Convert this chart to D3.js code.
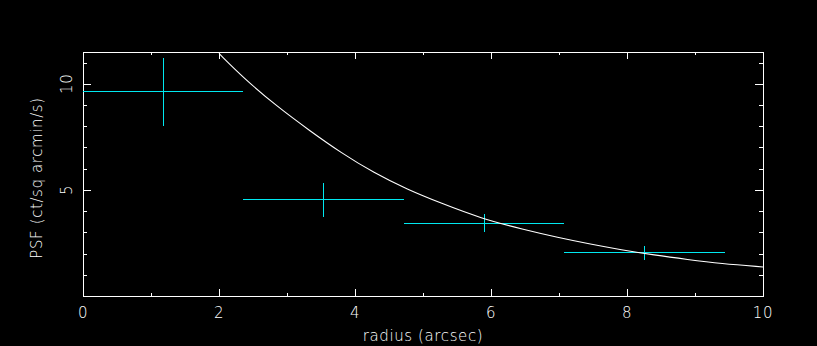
<!DOCTYPE html>
<html>
<head>
<meta charset="utf-8">
<script src="https://cdn.jsdelivr.net/npm/d3@7"></script>
<style>
  body { margin: 0; background: #000; }
  svg { display: block; }
  text { fill: #fff; font-family: "DejaVu Sans", sans-serif; font-size: 15px; font-weight: 200; letter-spacing: 0.6px; }
</style>
</head>
<body>
<svg id="chart" width="817" height="346"></svg>
<script>
// binned PSF data (radius bins and measured values)
const binLo = [0, 2.36, 4.72, 7.07];
const binHi = [2.36, 4.72, 7.08, 9.44];
const binMid = [1.18, 3.54, 5.90, 8.25];
const psf = [9.62, 4.53, 3.44, 2.03];
const psfLo = [8.0, 3.71, 3.0, 1.68];
const psfHi = [11.23, 5.34, 3.88, 2.37];

// model curve
const curveX = [2.0, 2.36, 2.85, 3.34, 3.79, 4.28, 4.77, 5.26, 5.85, 6.48, 6.98, 7.47, 7.91, 8.40, 8.89, 9.38, 10.0];
const curveY = [11.43, 10.28, 8.94, 7.78, 6.76, 5.80, 5.02, 4.38, 3.66, 3.13, 2.76, 2.44, 2.18, 1.93, 1.72, 1.53, 1.37];

const xTicks = [0, 2, 4, 6, 8, 10];
const yTicks = [5, 10];

const svg = d3.select("#chart");
const margin = { top: 52, right: 54, bottom: 50, left: 83 };
const width = 817, height = 346;

const x = d3.scaleLinear().domain([0, 10]).range([margin.left, width - margin.right]);
const y = d3.scaleLinear().domain([0, 11.5]).range([height - margin.bottom, margin.top]);

const frame = svg.append("g").attr("shape-rendering", "crispEdges");

// axes on all four sides, ticks pointing inward
const xMinor = d3.range(0, 11, 1);
const yMinor = d3.range(0, 12, 1);

frame.append("g")
  .attr("transform", "translate(0," + y(0) + ")")
  .call(d3.axisTop(x).tickValues(xMinor).tickSize(3).tickFormat(""));
frame.append("g")
  .attr("transform", "translate(0," + y(0) + ")")
  .call(d3.axisTop(x).tickValues(xTicks).tickSize(7).tickFormat(""));
frame.append("g")
  .attr("transform", "translate(0," + y(11.5) + ")")
  .call(d3.axisBottom(x).tickValues(xMinor).tickSize(3).tickFormat(""));
frame.append("g")
  .attr("transform", "translate(0," + y(11.5) + ")")
  .call(d3.axisBottom(x).tickValues(xTicks).tickSize(7).tickFormat(""));

frame.append("g")
  .attr("transform", "translate(" + x(0) + ",0)")
  .call(d3.axisRight(y).tickValues(yMinor).tickSize(4).tickFormat(""));
frame.append("g")
  .attr("transform", "translate(" + x(0) + ",0)")
  .call(d3.axisRight(y).tickValues(yTicks).tickSize(8).tickFormat(""));
frame.append("g")
  .attr("transform", "translate(" + x(10) + ",0)")
  .call(d3.axisLeft(y).tickValues(yMinor).tickSize(4).tickFormat(""));
frame.append("g")
  .attr("transform", "translate(" + x(10) + ",0)")
  .call(d3.axisLeft(y).tickValues(yTicks).tickSize(8).tickFormat(""));

frame.selectAll(".domain, .tick line").attr("stroke", "#fff").attr("stroke-width", 1);

// tick labels
svg.selectAll(".xlab")
  .data(xTicks)
  .enter().append("text")
  .attr("x", d => x(d))
  .attr("y", y(0) + 22)
  .attr("text-anchor", "middle")
  .text(d => d);

svg.selectAll(".ylab")
  .data(yTicks)
  .enter().append("text")
  .attr("transform", d => "translate(" + (x(0) - 11) + "," + y(d) + ") rotate(-90)")
  .attr("text-anchor", "middle")
  .text(d => d);

// axis titles
svg.append("text")
  .attr("x", 423)
  .attr("y", 341)
  .attr("text-anchor", "middle")
  .text("radius (arcsec)");

svg.append("text")
  .attr("transform", "translate(42,178) rotate(-90)")
  .attr("text-anchor", "middle")
  .text("PSF (ct/sq arcmin/s)");

// clip for the curve
svg.append("clipPath").attr("id", "plotclip")
  .append("rect")
  .attr("x", x(0)).attr("y", y(11.5))
  .attr("width", x(10) - x(0)).attr("height", y(0) - y(11.5));

// data crosses
const cyan = "#00e8f0";
const crosses = svg.append("g").attr("shape-rendering", "crispEdges");
crosses.selectAll(".hbar")
  .data(psf)
  .enter().append("line")
  .attr("x1", (d, i) => x(binLo[i]))
  .attr("x2", (d, i) => x(binHi[i]))
  .attr("y1", d => y(d))
  .attr("y2", d => y(d))
  .attr("stroke", cyan);
crosses.selectAll(".vbar")
  .data(psf)
  .enter().append("line")
  .attr("x1", (d, i) => x(binMid[i]))
  .attr("x2", (d, i) => x(binMid[i]))
  .attr("y1", (d, i) => y(psfLo[i]))
  .attr("y2", (d, i) => y(psfHi[i]))
  .attr("stroke", cyan);

// model curve
const line = d3.line()
  .x(d => x(d[0]))
  .y(d => y(d[1]))
  .curve(d3.curveBasis);

svg.append("path")
  .datum(curveX.map((v, i) => [v, curveY[i]]))
  .attr("clip-path", "url(#plotclip)")
  .attr("fill", "none")
  .attr("stroke", "#fff")
  .attr("stroke-width", 1.1)
  .attr("d", line);
</script>
</body>
</html>
